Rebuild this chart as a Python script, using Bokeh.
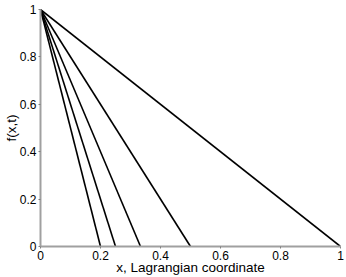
from bokeh.plotting import figure
from bokeh.embed import file_html
from bokeh.resources import INLINE
from bokeh.models import Range1d, FixedTicker

# front positions (x where f reaches 0) for each time
front_x = [1.0, 0.5, 1/3, 0.25, 0.2]
f_start = 1.0
f_end = 0.0
ticks = [0, 0.2, 0.4, 0.6, 0.8, 1]
tick_labels = {0: "0", 0.2: "0.2", 0.4: "0.4", 0.6: "0.6", 0.8: "0.8", 1: "1"}
x_title = "x, Lagrangian coordinate"
y_title = "f(x,t)"

p = figure(width=346, height=277, output_backend="svg", toolbar_location=None,
           x_range=Range1d(0, 1), y_range=Range1d(0, 1),
           min_border_left=39, min_border_right=6, min_border_top=9, min_border_bottom=31)
p.outline_line_color = None
p.grid.visible = False
p.background_fill_color = "white"

for c in front_x:
    p.line([0, c], [f_start, f_end], line_color="black", line_width=1.6)

font = "Liberation Sans"
for ax in (p.xaxis[0], p.yaxis[0]):
    ax.ticker = FixedTicker(ticks=ticks)
    ax.major_label_overrides = tick_labels
    ax.minor_tick_line_color = None
    ax.axis_line_color = "#a0a0a0"
    ax.axis_line_width = 2
    ax.major_tick_line_color = "#808080"
    ax.major_tick_in = 0
    ax.major_tick_out = 2
    ax.major_label_text_font = font
    ax.major_label_text_font_size = "12px"
    ax.major_label_text_color = "black"
    ax.major_label_standoff = 2
    ax.axis_label_text_font = font
    ax.axis_label_text_font_size = "13.5px"
    ax.axis_label_text_font_style = "normal"
    ax.axis_label_text_color = "black"
p.yaxis.major_label_orientation = "horizontal"
p.xaxis.axis_label = x_title
p.yaxis.axis_label = y_title
p.xaxis.axis_label_standoff = -3
p.yaxis.axis_label_standoff = -2

open("out.html", "w").write(file_html(p, INLINE))
